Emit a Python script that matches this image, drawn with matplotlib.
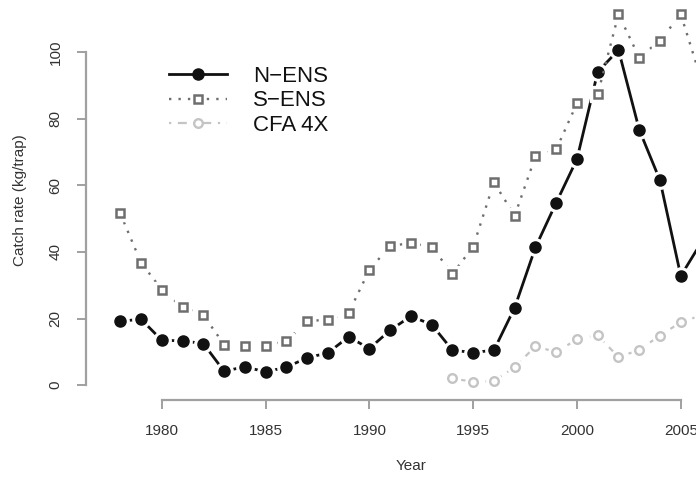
import matplotlib
matplotlib.use("Agg")
import matplotlib.pyplot as plt

plt.rcParams['font.family'] = ['Liberation Sans', 'DejaVu Sans']

years_n = list(range(1978, 2007))
n_ens = [19.2, 19.8, 13.5, 13.3, 12.5, 4.2, 5.5, 4.0, 5.4, 8.2, 9.7, 14.5,
         11.0, 16.5, 20.7, 18.2, 10.5, 9.8, 10.5, 23.3, 41.4, 54.8, 67.9,
         94.1, 100.7, 76.7, 61.5, 32.8, 43.0]
s_ens = [51.6, 36.8, 28.7, 23.4, 21.1, 12.2, 11.9, 11.9, 13.2, 19.2, 19.7, 21.7,
         34.6, 41.9, 42.6, 41.6, 33.4, 41.6, 60.9, 50.9, 68.7, 70.8, 84.7,
         87.4, 111.4, 98.4, 103.5, 111.4, 91.5]
years_c = list(range(1994, 2007))
cfa_4x = [2.0, 1.0, 1.2, 5.4, 11.7, 9.9, 13.8, 15.0, 8.4, 10.6, 14.9, 18.9, 21.0]

labels = ['N\u2212ENS', 'S\u2212ENS', 'CFA 4X']
xticks = [1980, 1985, 1990, 1995, 2000, 2005]
yticks = [0, 20, 40, 60, 80, 100]

W, H = 696, 479
fig = plt.figure(figsize=(W / 100, H / 100), dpi=100)
ax = fig.add_axes([86 / W, 79 / H, 650 / W, 400.7 / H])
ax.set_xlim(1976.35, 2007.66)
ax.set_ylim(-4.46, 115.9)

def series(x, y, color, ls, lw, marker, ms, mfc, mew, halo, z, label):
    ax.plot(x, y, color=color, linestyle=ls, linewidth=lw, zorder=z,
            solid_capstyle='butt', dash_capstyle='butt')
    ax.plot(x, y, linestyle='none', marker=marker, markersize=halo,
            markerfacecolor='white', markeredgecolor='white', zorder=z + 0.1)
    ax.plot(x, y, linestyle='none', marker=marker, markersize=ms,
            markerfacecolor=mfc, markeredgecolor=color, markeredgewidth=mew,
            zorder=z + 0.2)
    h, = ax.plot([], [], color=color, linestyle=ls, linewidth=lw, marker=marker,
                 markersize=ms, markerfacecolor=mfc, markeredgecolor=color,
                 markeredgewidth=mew, label=label)
    return h

h1 = series(years_n, n_ens, '#111111', '-', 2.0, 'o', 8.0, '#111111', 1.0, 12.5, 2, labels[0])
h2 = series(years_n, s_ens, '#6e6e6e', (0, (1, 3)), 1.7, 's', 6.0, 'white', 1.8, 11.5, 3, labels[1])
h3 = series(years_c, cfa_4x, '#c4c4c4', (0, (1, 3, 4, 3)), 1.6, 'o', 6.2, 'white', 1.7, 11.0, 4, labels[2])

for s in ['top', 'right']:
    ax.spines[s].set_visible(False)
for s in ['left', 'bottom']:
    ax.spines[s].set_color('#a0a0a0')
    ax.spines[s].set_linewidth(1.6)
ax.spines['left'].set_bounds(0, 100)
ax.spines['bottom'].set_bounds(1980, 2005)

ax.set_xticks(xticks)
ax.set_xticklabels([str(v) for v in xticks])
ax.set_yticks(yticks)
ax.set_yticklabels([str(v) for v in yticks], rotation=90, va='center')
ax.tick_params(axis='both', direction='out', length=6.5, width=1.2, color='#909090',
               labelsize=11, labelcolor='#333333', pad=10.5)

ax.set_xlabel('Year', fontsize=11, color='#333333', va='center')
ax.xaxis.set_label_coords(0.5, -66 / 400.7)
ax.set_ylabel('Catch rate (kg/trap)', fontsize=11, color='#333333', va='center')
ax.yaxis.set_label_coords(-66 / 650, 0.5)

fig.legend(handles=[h1, h2, h3], loc='center left',
           bbox_to_anchor=(169 / W, 1 - 101 / H), frameon=False, fontsize=16,
           handlelength=2.6, handletextpad=1.2, labelspacing=0.15,
           borderpad=0, borderaxespad=0, labelcolor='#111111')

fig.savefig('out.png', dpi=100)
